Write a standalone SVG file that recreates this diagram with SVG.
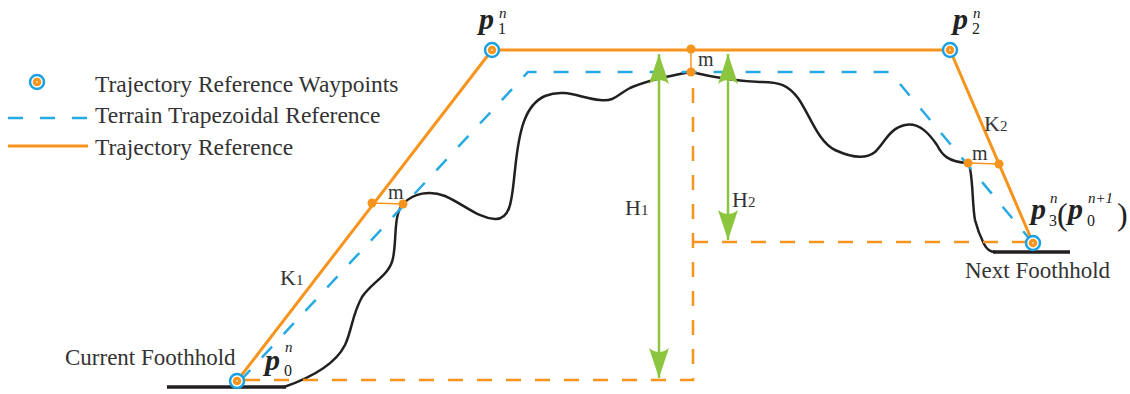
<svg xmlns="http://www.w3.org/2000/svg" width="1130" height="394" viewBox="0 0 1130 394">
<style>
.txt{font-family:"Liberation Serif","Times New Roman",serif;fill:#333}
.pl{font-family:"Liberation Serif","Times New Roman",serif;font-weight:bold;font-style:italic;fill:#222}
.sup{font-family:"Liberation Serif","Times New Roman",serif;font-style:italic;fill:#222}
.sub{font-family:"Liberation Serif","Times New Roman",serif;fill:#222}
.traj{fill:none;stroke:#f7941d;stroke-width:3;stroke-linejoin:round}
.trap{fill:none;stroke:#27aae1;stroke-width:2.5;stroke-dasharray:15 17}
.odash{fill:none;stroke:#f7941d;stroke-width:2.5;stroke-dasharray:15 14}
.terrain{fill:none;stroke:#231f20;stroke-width:2.5;stroke-linecap:round}
.ground{fill:none;stroke:#231f20;stroke-width:3.5}
.thin{stroke:#f7941d;stroke-width:1.5}
.dot{fill:#f7941d}
.green{fill:none;stroke:#8cc63f;stroke-width:2.5;marker-start:url(#ah);marker-end:url(#ah)}
</style>
<defs>
<marker id="ah" markerUnits="userSpaceOnUse" viewBox="-32 -11 34 22" refX="0" refY="0" markerWidth="34" markerHeight="22" orient="auto-start-reverse">
<path d="M0,0 L-30,-10 Q-22,0 -30,10 Z" fill="#8cc63f"/>
</marker>
<g id="wp">
<circle r="7" fill="#fff" stroke="#1ba1e2" stroke-width="2.5"/>
<circle r="4.3" fill="#f7941d"/>
<circle r="0.9" fill="#fde2c0"/>
</g>
</defs>
<rect width="1130" height="394" fill="#fff"/>

<g id="legend">
<use href="#wp" x="37" y="82"/>
<text class="txt" x="95" y="92" font-size="23.5">Trajectory Reference Waypoints</text>
<line class="trap" x1="8" y1="118" x2="88" y2="118"/>
<text class="txt" x="95" y="123" font-size="23.5">Terrain Trapezoidal Reference</text>
<line x1="8" y1="146" x2="88" y2="146" stroke="#f7941d" stroke-width="3"/>
<text class="txt" x="95" y="155" font-size="23.5">Trajectory Reference</text>
</g>

<g id="terrain">
<line class="ground" x1="167" y1="387" x2="286" y2="387"/>
<line class="ground" x1="993" y1="252" x2="1070" y2="252"/>
<path class="terrain" d="M284,387 C310,378 335,365 345,345 C352,330 352,315 362,297 C372,282 390,275 393,258 C397,240 393,215 403,204 C413,193 430,190 445,196 C465,205 478,218 495,219 C512,220 512,195 515,170 C519,130 525,105 545,96 C565,88 580,98 600,100 C615,102 618,94 630,88 C648,80 668,76 691,72 C712,77 735,81 760,82 C780,82 788,85 798,98 C810,115 818,142 835,150 C850,157 865,160 875,152 C885,142 890,128 905,125 C920,122 930,135 937,145 C942,155 948,162 968,163 C973,168 972,205 975,220 C978,232 982,240 984,244 C987,250 990,252 995,252"/>
</g>

<g id="connectors">
<polyline class="trap" points="240,381 528,72 890,72 1033,243"/>
<polyline class="odash" points="245,380 693,380 693,72"/>
<line class="odash" x1="693" y1="242" x2="1026" y2="242"/>
<polyline class="traj" points="237,381 492,50 950,50 1033,243"/>
<line class="thin" x1="372" y1="203" x2="403" y2="204"/>
<line class="thin" x1="691" y1="49" x2="691" y2="72"/>
<line class="thin" x1="968" y1="163" x2="999" y2="164"/>
<line class="green" x1="659" y1="54" x2="659" y2="378"/>
<line class="green" x1="728" y1="54" x2="728" y2="240"/>
</g>

<g id="m-points">
<circle class="dot" cx="372" cy="203" r="4.5"/>
<circle class="dot" cx="403" cy="204" r="4.5"/>
<circle class="dot" cx="691" cy="49" r="4.5"/>
<circle class="dot" cx="691" cy="72" r="4.5"/>
<circle class="dot" cx="968" cy="163" r="4.5"/>
<circle class="dot" cx="999" cy="164" r="4.5"/>
<text class="txt" x="388" y="199" font-size="20">m</text>
<text class="txt" x="698" y="66" font-size="20">m</text>
<text class="txt" x="972" y="160" font-size="20">m</text>
</g>

<g id="p0">
<use href="#wp" x="237" y="381"/>
<text class="pl" x="265" y="370" font-size="30">p</text>
<text class="sup" x="285" y="352" font-size="15">n</text>
<text class="sub" x="284" y="376" font-size="16">0</text>
</g>
<g id="p1">
<use href="#wp" x="492" y="50"/>
<text class="pl" x="479" y="29" font-size="30">p</text>
<text class="sup" x="499" y="18" font-size="15">n</text>
<text class="sub" x="498" y="34" font-size="16">1</text>
</g>
<g id="p2">
<use href="#wp" x="950" y="50"/>
<text class="pl" x="953" y="29" font-size="30">p</text>
<text class="sup" x="973" y="18" font-size="15">n</text>
<text class="sub" x="972" y="34" font-size="16">2</text>
</g>
<g id="p3">
<use href="#wp" x="1033" y="243"/>
<text class="pl" x="1031" y="219" font-size="30">p</text>
<text class="sup" x="1050" y="203" font-size="15">n</text>
<text class="sub" x="1049" y="226" font-size="16">3</text>
<text class="sub" x="1057" y="225" font-size="32">(</text>
<text class="pl" x="1068" y="219" font-size="30">p</text>
<text class="sup" x="1088" y="203" font-size="15">n+1</text>
<text class="sub" x="1087" y="226" font-size="16">0</text>
<text class="sub" x="1117" y="225" font-size="32">)</text>
</g>

<g id="labels">
<text class="txt" x="65" y="365" font-size="23">Current Foothhold</text>
<text class="txt" x="965" y="278" font-size="23">Next Foothhold</text>
<text class="txt" x="280" y="285" font-size="22">K<tspan font-size="15">1</tspan></text>
<text class="txt" x="984" y="131" font-size="22">K<tspan font-size="15">2</tspan></text>
<text class="txt" x="625" y="215" font-size="22">H<tspan font-size="15">1</tspan></text>
<text class="txt" x="732" y="207" font-size="22">H<tspan font-size="15">2</tspan></text>
</g>
</svg>
